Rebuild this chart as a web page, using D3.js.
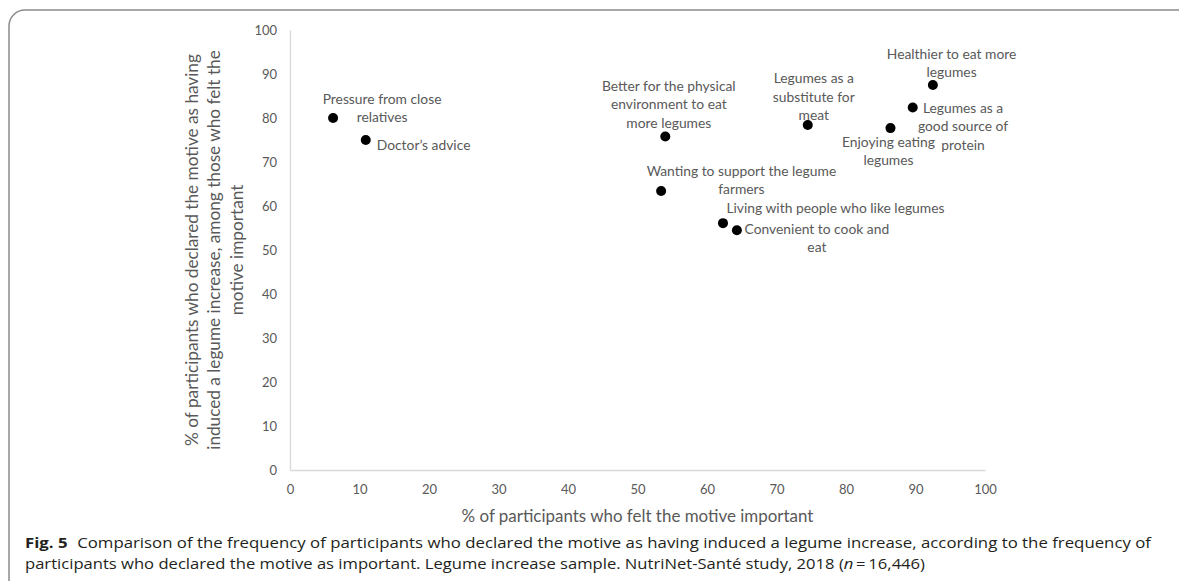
<!DOCTYPE html>
<html>
<head>
<meta charset="utf-8">
<script src="https://cdn.jsdelivr.net/npm/d3@7/dist/d3.min.js"></script>
<style>
  html, body { margin: 0; padding: 0; background: #ffffff; }
  svg { display: block; }
</style>
</head>
<body>
<svg id="chart" width="1179" height="581"></svg>
<script>
// ---- data ----
const motives = [
  "Pressure from close relatives",
  "Doctor’s advice",
  "Better for the physical environment to eat more legumes",
  "Legumes as a substitute for meat",
  "Healthier to eat more legumes",
  "Legumes as a good source of protein",
  "Enjoying eating legumes",
  "Wanting to support the legume farmers",
  "Living with people who like legumes",
  "Convenient to cook and eat"
];
const motiveLabelLines = [
  ["Pressure from close", "relatives"],
  ["Doctor’s advice"],
  ["Better for the physical", "environment to eat", "more legumes"],
  ["Legumes as a", "substitute for", "meat"],
  ["Healthier to eat more", "legumes"],
  ["Legumes as a", "good source of", "protein"],
  ["Enjoying eating", "legumes"],
  ["Wanting to support the legume", "farmers"],
  ["Living with people who like legumes"],
  ["Convenient to cook and", "eat"]
];
const feltImportantPct = [6.2, 10.9, 54.0, 74.5, 92.5, 89.6, 86.4, 53.4, 62.3, 64.3];
const inducedIncreasePct = [80.0, 75.0, 75.8, 78.4, 87.5, 82.4, 77.7, 63.4, 56.1, 54.5];
const xTickValues = [0, 10, 20, 30, 40, 50, 60, 70, 80, 90, 100];
const yTickValues = [0, 10, 20, 30, 40, 50, 60, 70, 80, 90, 100];
const xTitle = "% of participants who felt the motive important";
const yTitleLines = [
  "% of participants who declared the motive as having",
  "induced a legume increase, among those who felt the",
  "motive important"
];
const captionBold = "Fig. 5";
const captionLine1 = "Comparison of the frequency of participants who declared the motive as having induced a legume increase, according to the frequency of";
const captionLine2Pre = "participants who declared the motive as important. Legume increase sample. NutriNet-Santé study, 2018 (";
const captionLine2N = "n";
const captionLine2Post = "\u2009=\u200916,446)";

// ---- layout (label offsets relative to each point, in px) ----
const labelLayout = [
  {dx: 49, dy: -20, anchor: "middle"},
  {dx: 11, dy: 4, anchor: "start"},
  {dx: 3.5, dy: -51, anchor: "middle"},
  {dx: 6, dy: -47.3, anchor: "middle"},
  {dx: 18.7, dy: -31.7, anchor: "middle"},
  {dx: 50.3, dy: 0, anchor: "middle"},
  {dx: -2, dy: 13.4, anchor: "middle"},
  {dx: 80.3, dy: -21, anchor: "middle"},
  {dx: 112.5, dy: -15.6, anchor: "middle"},
  {dx: 80, dy: -1.7, anchor: "middle"}
];

const svg = d3.select("#chart");
const gray = "#595959";
const font = "Lato, 'Open Sans', sans-serif";
const capFont = "'Open Sans', 'Noto Sans', sans-serif";

// helper: font size so that a string reaches a target width
function fitSize(text, family, base, target) {
  const t = svg.append("text").attr("font-family", family).attr("font-size", base).text(text);
  const w = t.node().getComputedTextLength();
  t.remove();
  return w > 0 ? base * target / w : base;
}
const labelSize = fitSize("Living with people who like legumes", font, 12.6, 218);
const titleSize = fitSize(xTitle, font, 15.5, 352);
const yTitleSize = fitSize(yTitleLines[0], font, 15.5, 392);

// frame with rounded top-left corner
svg.append("rect")
  .attr("x", 9).attr("y", 10)
  .attr("width", 1200).attr("height", 620)
  .attr("rx", 16).attr("ry", 16)
  .attr("fill", "none")
  .attr("stroke", "#8c8c8c")
  .attr("stroke-width", 1.5);

const x = d3.scaleLinear().domain([0, 100]).range([290, 985]);
const y = d3.scaleLinear().domain([0, 100]).range([470, 30]);

// axes
const xAxis = d3.axisBottom(x).tickValues(xTickValues).tickSize(0).tickPadding(14);
const yAxis = d3.axisLeft(y).tickValues(yTickValues).tickSize(0).tickPadding(14);

const gx = svg.append("g").attr("transform", `translate(0,${y(0)})`).call(xAxis);
const gy = svg.append("g").attr("transform", `translate(${x(0)},0)`).call(yAxis);
[gx, gy].forEach(g => {
  g.select(".domain").attr("stroke", "#d9d9d9").attr("stroke-width", 1.3);
  g.selectAll("text").attr("fill", gray).attr("font-family", font).attr("font-size", 13);
});
gx.selectAll("text").attr("dy", "0.32em").attr("y", 20);
gy.selectAll("text").attr("x", -13);

// axis titles
svg.append("text")
  .attr("x", (x(0) + x(100)) / 2).attr("y", 515)
  .attr("text-anchor", "middle").attr("dominant-baseline", "central")
  .attr("fill", gray).attr("font-family", font).attr("font-size", titleSize)
  .text(xTitle);

const yTitle = svg.append("text")
  .attr("transform", `translate(191,${(y(0) + y(100)) / 2}) rotate(-90)`)
  .attr("text-anchor", "middle").attr("fill", gray)
  .attr("font-family", font).attr("font-size", yTitleSize);
yTitleLines.forEach((line, i) => {
  yTitle.append("tspan").attr("x", 0).attr("y", i * 22.5)
    .attr("dominant-baseline", "central").text(line);
});

// points
const data = motives.map((m, i) => ({
  motive: m, lines: motiveLabelLines[i],
  xv: feltImportantPct[i], yv: inducedIncreasePct[i], lay: labelLayout[i]
}));

svg.append("g").selectAll("circle").data(data).join("circle")
  .attr("cx", d => x(d.xv)).attr("cy", d => y(d.yv))
  .attr("r", 5).attr("fill", "#000");

// labels
const lbl = svg.append("g").selectAll("text").data(data).join("text")
  .attr("font-family", font).attr("font-size", labelSize).attr("fill", gray)
  .attr("text-anchor", d => d.lay.anchor);
lbl.each(function(d) {
  const t = d3.select(this);
  d.lines.forEach((line, i) => {
    t.append("tspan")
      .attr("x", x(d.xv) + d.lay.dx)
      .attr("y", y(d.yv) + d.lay.dy + i * 18.4)
      .attr("dominant-baseline", "central")
      .text(line);
  });
});

// caption (stretched horizontally to the reference line widths)
const c1 = svg.append("text").attr("x", 25).attr("y", 542)
  .attr("dominant-baseline", "central")
  .attr("font-family", capFont).attr("font-size", 14).attr("fill", "#231f20")
  .attr("textLength", 1126).attr("lengthAdjust", "spacingAndGlyphs");
c1.append("tspan").attr("font-weight", "bold").text(captionBold);
c1.append("tspan").attr("dx", 8).text(captionLine1);

const c2 = svg.append("text").attr("x", 25).attr("y", 563)
  .attr("dominant-baseline", "central")
  .attr("font-family", capFont).attr("font-size", 14).attr("fill", "#231f20")
  .attr("textLength", 900).attr("lengthAdjust", "spacingAndGlyphs");
c2.append("tspan").text(captionLine2Pre);
c2.append("tspan").attr("font-style", "italic").text(captionLine2N);
c2.append("tspan").text(captionLine2Post);
</script>
</body>
</html>
